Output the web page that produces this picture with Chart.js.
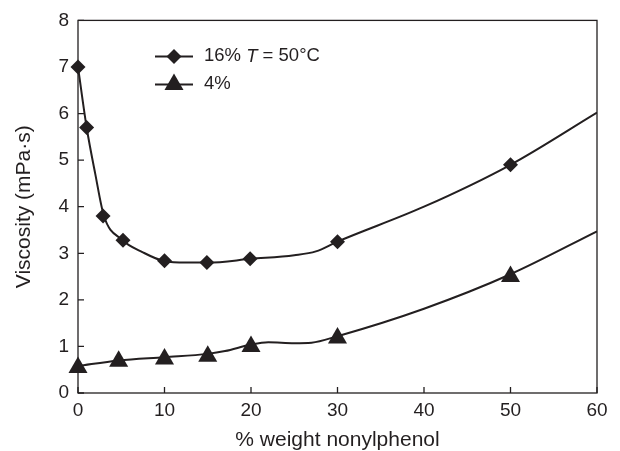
<!DOCTYPE html>
<html>
<head>
<meta charset="utf-8">
<script src="https://cdn.jsdelivr.net/npm/chart.js@4/dist/chart.umd.min.js"></script>
<style>
  html, body { margin: 0; padding: 0; background: #fff; }
  #wrap { width: 620px; height: 451px; }
</style>
</head>
<body>
<div id="wrap"><canvas id="viscChart" width="620" height="451"></canvas></div>
<script>
// values
const xTicks = [0, 10, 20, 30, 40, 50, 60];
const yTicks = [0, 1, 2, 3, 4, 5, 6, 7, 8];

// 16% series: measured points (diamonds) and the drawn curve
const x16 = [0, 1, 2.9, 5.2, 10, 14.9, 19.9, 30, 50];
const y16 = [7.0, 5.7, 3.8, 3.28, 2.84, 2.8, 2.88, 3.25, 4.9];
const x16Curve = [0, 1, 2, 3, 5, 7.5, 10, 12.5, 15, 20, 25, 27.5, 30, 40, 50, 60];
const y16Curve = [7.0, 5.7, 4.7, 3.8, 3.3, 3.02, 2.83, 2.8, 2.8, 2.88, 2.96, 3.04, 3.25, 4.0, 4.9, 6.02];

// 4% series: measured points (triangles) and the drawn curve
const x4 = [0, 4.7, 10, 15, 20, 30, 50];
const y4 = [0.55, 0.68, 0.73, 0.79, 1.0, 1.18, 2.5];
const x4Curve = [0, 4.7, 10, 15, 17, 20, 22, 25, 27, 30, 40, 50, 60];
const y4Curve = [0.58, 0.7, 0.77, 0.84, 0.9, 1.04, 1.09, 1.07, 1.08, 1.22, 1.81, 2.55, 3.47];

const ink = '#231f20';
const fontFamily = '"Liberation Sans", Arial, Helvetica, sans-serif';

function pts(xs, ys) {
  return xs.map((x, i) => ({ x: x, y: ys[i] }));
}

// frame + inward tick marks
const framePlugin = {
  id: 'frame',
  afterDatasetsDraw(chart) {
    const { ctx, chartArea: a, scales } = chart;
    ctx.save();
    ctx.strokeStyle = ink;
    ctx.lineWidth = 1.3;
    ctx.strokeRect(a.left, a.top, a.right - a.left, a.bottom - a.top);
    ctx.beginPath();
    xTicks.forEach(v => {
      const px = scales.x.getPixelForValue(v);
      ctx.moveTo(px, a.bottom);
      ctx.lineTo(px, a.bottom - 6);
    });
    yTicks.forEach(v => {
      const py = scales.y.getPixelForValue(v);
      ctx.moveTo(a.left, py);
      ctx.lineTo(a.left + 6, py);
    });
    ctx.stroke();
    ctx.restore();
  }
};

// legend drawn by hand so the T can be italic
const legendPlugin = {
  id: 'handLegend',
  afterDraw(chart) {
    const { ctx, chartArea: a } = chart;
    const x0 = a.left + 77, x1 = a.left + 115, xm = (x0 + x1) / 2;
    const rows = [a.top + 36, a.top + 64];
    const f = '18.5px ' + fontFamily;
    ctx.save();
    ctx.strokeStyle = ink;
    ctx.fillStyle = ink;
    ctx.lineWidth = 2;
    rows.forEach(y => {
      ctx.beginPath();
      ctx.moveTo(x0, y);
      ctx.lineTo(x1, y);
      ctx.stroke();
    });
    // diamond
    let r = 7.5, y = rows[0];
    ctx.beginPath();
    ctx.moveTo(xm, y - r); ctx.lineTo(xm + r, y); ctx.lineTo(xm, y + r); ctx.lineTo(xm - r, y);
    ctx.closePath(); ctx.fill();
    // triangle
    r = 11; y = rows[1];
    ctx.beginPath();
    ctx.moveTo(xm, y - r);
    ctx.lineTo(xm + r * 0.866, y + r / 2);
    ctx.lineTo(xm - r * 0.866, y + r / 2);
    ctx.closePath(); ctx.fill();

    ctx.textBaseline = 'middle';
    ctx.textAlign = 'left';
    let tx = a.left + 126;
    ctx.font = f;
    ctx.fillText('16% ', tx, rows[0]);
    tx += ctx.measureText('16% ').width;
    ctx.font = 'italic ' + f;
    ctx.fillText('T', tx, rows[0]);
    tx += ctx.measureText('T').width;
    ctx.font = f;
    ctx.fillText(' = 50°C', tx, rows[0]);
    ctx.fillText('4%', a.left + 126, rows[1]);
    ctx.restore();
  }
};

const ctx = document.getElementById('viscChart').getContext('2d');
new Chart(ctx, {
  type: 'scatter',
  data: {
    datasets: [
      {
        label: '16%',
        data: pts(x16, y16),
        pointStyle: 'rectRot',
        pointRadius: 7.5,
        backgroundColor: ink,
        borderColor: ink,
        borderWidth: 0,
        showLine: false,
        clip: false,
        order: 0
      },
      {
        label: '4%',
        data: pts(x4, y4),
        pointStyle: 'triangle',
        pointRadius: 11,
        backgroundColor: ink,
        borderColor: ink,
        borderWidth: 0,
        showLine: false,
        clip: false,
        order: 0
      },
      {
        label: '16% curve',
        data: pts(x16Curve, y16Curve),
        showLine: true,
        pointRadius: 0,
        borderColor: ink,
        borderWidth: 2,
        cubicInterpolationMode: 'monotone',
        order: 1
      },
      {
        label: '4% curve',
        data: pts(x4Curve, y4Curve),
        showLine: true,
        pointRadius: 0,
        borderColor: ink,
        borderWidth: 2,
        cubicInterpolationMode: 'monotone',
        order: 1
      }
    ]
  },
  options: {
    responsive: false,
    animation: false,
    events: [],
    layout: { padding: { top: 17, right: 23, left: 0, bottom: 0 } },
    plugins: {
      legend: { display: false },
      tooltip: { enabled: false }
    },
    scales: {
      x: {
        type: 'linear',
        min: 0,
        max: 60,
        afterFit: s => { s.height = 58; },
        afterBuildTicks: s => { s.ticks = xTicks.map(v => ({ value: v })); },
        grid: { display: false, drawTicks: false },
        border: { display: false },
        ticks: { padding: 6, color: ink, font: { family: fontFamily, size: 19 } },
        title: {
          display: true,
          text: '% weight nonylphenol',
          color: ink,
          font: { family: fontFamily, size: 21, lineHeight: 1 },
          padding: { top: 0, bottom: 0 }
        }
      },
      y: {
        type: 'linear',
        min: 0,
        max: 8,
        afterFit: s => { s.width = 78; },
        afterBuildTicks: s => { s.ticks = yTicks.map(v => ({ value: v })); },
        grid: { display: false, drawTicks: false },
        border: { display: false },
        ticks: { padding: 9, color: ink, font: { family: fontFamily, size: 19 } },
        title: {
          display: true,
          text: 'Viscosity (mPa·s)',
          color: ink,
          font: { family: fontFamily, size: 21, lineHeight: 1 },
          padding: { top: 14, bottom: 0 }
        }
      }
    }
  },
  plugins: [framePlugin, legendPlugin]
});
</script>
</body>
</html>
